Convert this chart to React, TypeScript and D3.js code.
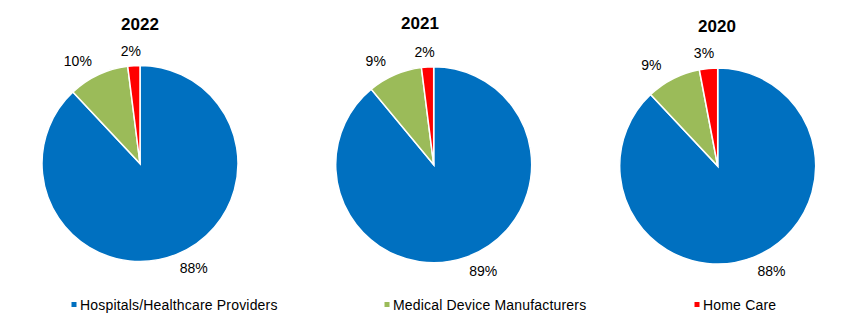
import React from "react";
import * as d3 from "d3";

const categories = ["Hospitals/Healthcare Providers", "Medical Device Manufacturers", "Home Care"];
const colors = ["#0070C0", "#9BBB59", "#FF0000"];
const years = ["2022", "2021", "2020"];
const values2022 = [88, 10, 2];
const values2021 = [89, 9, 2];
const values2020 = [88, 9, 3];
const seriesByYear = [values2022, values2021, values2020];

const W = 844;
const H = 327;
const pieCenters = [
  { cx: 140, cy: 163.5, tx: 140, ty: 30 },
  { cx: 433.7, cy: 164.7, tx: 420, ty: 29 },
  { cx: 717.7, cy: 166, tx: 717, ty: 32 },
];
const R = 98;
const legendPos = [80, 393, 703];

export default function App() {
  const pie = d3.pie<number>().sort(null).value((d) => d);
  const arc = d3.arc<d3.PieArcDatum<number>>().innerRadius(0).outerRadius(R);
  const font = "Arial, 'Liberation Sans', sans-serif";
  return (
    <svg
      width={W}
      height={H}
      style={{ position: "absolute", left: 0, top: 0, background: "#fff" }}
      fontFamily={font}
    >
      {seriesByYear.map((vals, i) => {
        const c = pieCenters[i];
        const arcs = pie(vals);
        return (
          <g key={years[i]}>
            <text x={c.tx} y={c.ty} textAnchor="middle" fontSize={17} fontWeight="bold" fill="#000">
              {years[i]}
            </text>
            <g transform={`translate(${c.cx},${c.cy})`}>
              {arcs.map((a, j) => (
                <path key={j} d={arc(a) || ""} fill={colors[j]} stroke="#fff" strokeWidth={1.5} />
              ))}
              {arcs.map((a, j) => {
                const th = (a.startAngle + a.endAngle) / 2;
                const x = (R + 48) * Math.sin(th);
                const y = -(R + 15) * Math.cos(th);
                return (
                  <text key={"l" + j} x={x} y={y} dy="0.35em" textAnchor="middle" fontSize={14} fill="#000">
                    {a.data + "%"}
                  </text>
                );
              })}
            </g>
          </g>
        );
      })}
      {categories.map((name, j) => (
        <g key={name}>
          <rect x={legendPos[j] - 8.5} y={302} width={5} height={5} fill={colors[j]} />
          <text x={legendPos[j]} y={305} dy="0.35em" fontSize={14} letterSpacing={0.18} fill="#000">
            {name}
          </text>
        </g>
      ))}
    </svg>
  );
}
